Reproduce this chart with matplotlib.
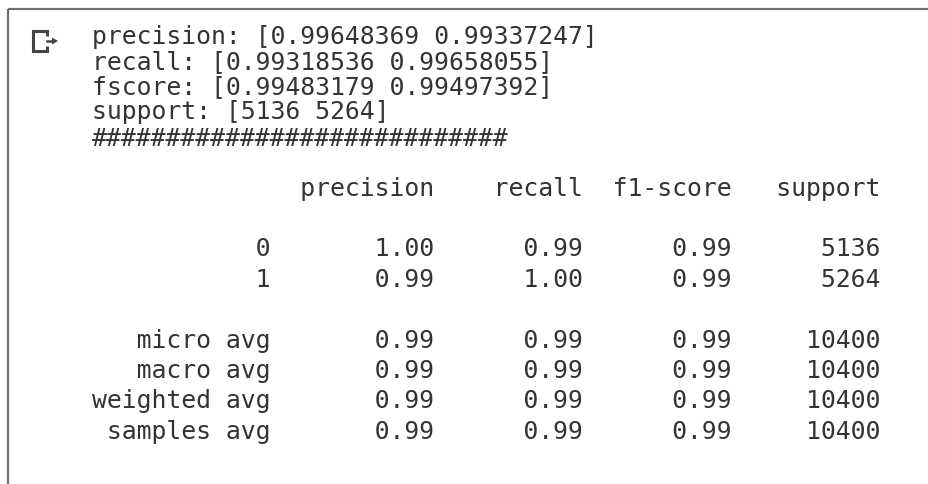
import matplotlib
matplotlib.use("Agg")
import matplotlib.pyplot as plt
import numpy as np

# per-class scores
precision = np.array([0.99648369, 0.99337247])
recall = np.array([0.99318536, 0.99658055])
fscore = np.array([0.99483179, 0.99497392])
support = np.array([5136, 5264])

# classification report rows
row_names = ["0", "1", "micro avg", "macro avg", "weighted avg", "samples avg"]
row_prec = [1.00, 0.99, 0.99, 0.99, 0.99, 0.99]
row_rec = [0.99, 1.00, 0.99, 0.99, 0.99, 0.99]
row_f1 = [0.99, 0.99, 0.99, 0.99, 0.99, 0.99]
row_sup = [5136, 5264, 10400, 10400, 10400, 10400]
headers = ["precision", "recall", "f1-score", "support"]

W, H = 929, 484
fig = plt.figure(figsize=(W / 100, H / 100), dpi=100)
ax = fig.add_axes([0, 0, 1, 1])
ax.set_xlim(0, W)
ax.set_ylim(H, 0)
ax.axis("off")

# output cell frame
ax.plot([8, W], [9, 9], color="#6f6f6f", lw=1.6, solid_capstyle="butt")
ax.plot([8, 8], [9, H], color="#6f6f6f", lw=1.6, solid_capstyle="butt")

# output icon
ic = "#444444"
ax.plot([47, 33, 33, 47], [31, 31, 51, 51], color=ic, lw=2.2, solid_joinstyle="miter")
ax.plot([47, 47], [30.2, 36], color=ic, lw=2.2, solid_capstyle="butt")
ax.plot([47, 47], [46, 51.8], color=ic, lw=2.2, solid_capstyle="butt")
ax.plot([47, 53], [41, 41], color=ic, lw=1.8)
ax.fill([52, 58, 52], [37.5, 41, 44.5], color=ic, lw=0)

# build the printed lines
np.set_printoptions(precision=8)
top_lines = [
    "precision: " + str(precision),
    "recall: " + str(recall),
    "fscore: " + str(fscore),
    "support: " + str(support),
    "#" * 28,
]
top_y = [44, 69, 94, 119, 146]

width = len("weighted avg")
report = ["{:>{w}s} ".format("", w=width) + "".join(" {:>9}".format(h) for h in headers)]
report_y = [196]
ys = [256, 287, 348, 378, 408, 439]
for i in range(len(row_names)):
    s = "{:>{w}s} ".format(row_names[i], w=width)
    s += " {:>9.2f} {:>9.2f} {:>9.2f} {:>9}".format(row_prec[i], row_rec[i], row_f1[i], row_sup[i])
    report.append(s)
    report_y.append(ys[i])

font = dict(family="DejaVu Sans Mono", fontsize=17.8, color="#333333", va="baseline", ha="left")
for s, y in zip(top_lines + report, top_y + report_y):
    ax.text(92, y, s, **font)

fig.savefig("out.png", dpi=100, facecolor="white")
